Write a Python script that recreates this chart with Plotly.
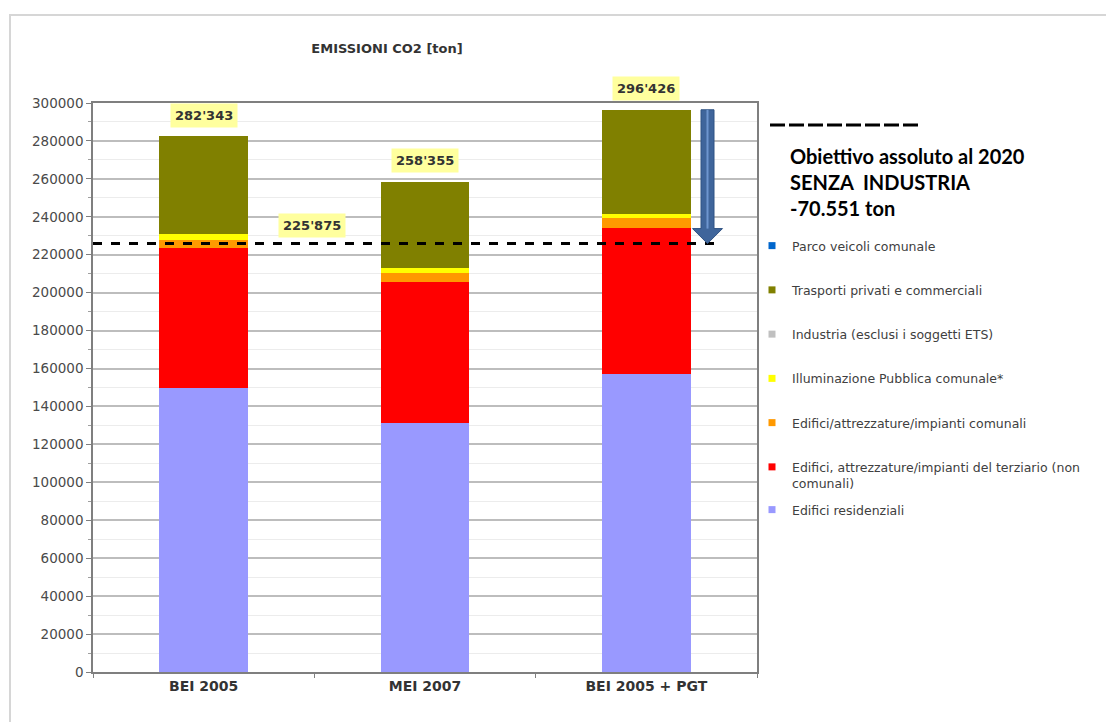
import plotly.graph_objects as go

# --- data -----------------------------------------------------------------
categories = ["BEI 2005", "MEI 2007", "BEI 2005 + PGT"]

edifici_residenziali = [150000, 131200, 157000]
edifici_terziario = [73600, 74500, 77100]
edifici_comunali = [4400, 4500, 5300]
illuminazione_pubblica = [3100, 2700, 2300]
industria = [0, 0, 0]
trasporti_privati = [51243, 45455, 54726]
parco_veicoli = [0, 0, 0]

obiettivo_2020 = 225875

series_names = [
    "Edifici residenziali",
    "Edifici, attrezzature/impianti del terziario (non<br>comunali)",
    "Edifici/attrezzature/impianti comunali",
    "Illuminazione Pubblica comunale*",
    "Industria (esclusi i soggetti ETS)",
    "Trasporti privati e commerciali",
    "Parco veicoli comunale",
]
series_values = [
    edifici_residenziali,
    edifici_terziario,
    edifici_comunali,
    illuminazione_pubblica,
    industria,
    trasporti_privati,
    parco_veicoli,
]
series_colors = ["#9999FF", "#FF0000", "#FF9900", "#FFFF00", "#C0C0C0", "#808000", "#0066CC"]

y_ticks = list(range(0, 300001, 20000))

# --- geometry helpers (pixel -> paper) ------------------------------------
W, H = 1106, 722
L, R, T, B = 93, 757, 103, 672


def px_x(px):
    return (px - L) / (R - L)


def px_y(py):
    return (B - py) / (B - T)


Y_MAX = 300000
UNITS_PER_PX = Y_MAX / (B - T)

totals = [sum(col) for col in zip(*series_values)]


def fmt_apos(v):
    return f"{v:,}".replace(",", "'")


fig = go.Figure()

# stacked bars, bottom to top
for name, vals, col in zip(series_names, series_values, series_colors):
    fig.add_trace(go.Bar(
        x=categories, y=vals, name=name,
        marker=dict(color=col, line=dict(width=0)),
        showlegend=False, hoverinfo="x+y+name",
    ))

# legend entries (small square swatches), listed top to bottom
for i, (name, col) in enumerate(reversed(list(zip(series_names, series_colors)))):
    fig.add_trace(go.Scatter(
        x=[None], y=[None], mode="markers", name=name,
        marker=dict(symbol="square", size=7, color=col),
        legendgroup=f"g{i}",
        legend="legend2" if name == "Edifici residenziali" else "legend",
    ))

annotations = []
label_font = dict(family="DejaVu Sans", size=13, color="#333333")
for cat, tot in zip(categories, totals):
    annotations.append(dict(
        x=cat, y=tot, xref="x", yref="y", text=f"<b>{fmt_apos(tot)}</b>",
        showarrow=False, yshift=21, bgcolor="#FFFF9E", borderpad=4,
        font=label_font,
    ))
annotations.append(dict(
    x=0.49, y=obiettivo_2020, xref="x", yref="y",
    text=f"<b>{fmt_apos(obiettivo_2020)}</b>",
    showarrow=False, yshift=18, bgcolor="#FFFF9E", borderpad=4, font=label_font,
))

riduzione = totals[2] - obiettivo_2020
annotations.append(dict(
    x=px_x(788), y=px_y(142), xref="paper", yref="paper",
    xanchor="left", yanchor="top", align="left", showarrow=False,
    text=("<b>Obiettivo assoluto al 2020<br>SENZA\u00a0 INDUSTRIA<br>"
          f"-{riduzione:,}".replace(",", ".") + " ton</b>"),
    font=dict(family="Lato", size=20, color="#000000"),
))

shapes = []
# outer chart frame
shapes.append(dict(type="rect", xref="paper", yref="paper",
                   x0=px_x(10), x1=px_x(1300), y0=px_y(900), y1=px_y(15),
                   line=dict(color="#D6D6D6", width=2), layer="below"))
# target line
shapes.append(dict(type="line", xref="x", yref="y", x0=-0.5, x1=2.32,
                   y0=obiettivo_2020, y1=obiettivo_2020,
                   line=dict(color="#000000", width=3, dash="dash")))
# dashed key next to the target text
shapes.append(dict(type="line", xref="paper", yref="paper",
                   x0=px_x(770), x1=px_x(922), y0=px_y(125), y1=px_y(125),
                   line=dict(color="#000000", width=3, dash="15px,4px")))

# reduction arrow from BEI 2005 + PGT total down to the target
cx = px_x(707.5)
hs = 6.5 / (R - L)
hh = 15 / (R - L)
head = 15 * UNITS_PER_PX
top, tip = totals[2], obiettivo_2020
arrow_path = (f"M {cx - hs},{top} L {cx + hs},{top} L {cx + hs},{tip + head} "
              f"L {cx + hh},{tip + head} L {cx},{tip} L {cx - hh},{tip + head} "
              f"L {cx - hs},{tip + head} Z")
shapes.append(dict(type="path", xref="paper", yref="y", path=arrow_path,
                   fillcolor="#3F659B", line=dict(color="#2F5283", width=1)))
shapes.append(dict(type="line", xref="paper", yref="y", x0=cx, x1=cx,
                   y0=top, y1=tip + head, line=dict(color="#6E96CF", width=2)))

fig.update_layout(
    width=W, height=H,
    margin=dict(l=L, r=W - R, t=T, b=H - B, pad=0),
    paper_bgcolor="white", plot_bgcolor="white",
    barmode="stack", bargap=0.6,
    title=dict(text="<b>EMISSIONI CO2 [ton]</b>", x=387 / W, xanchor="center",
               y=1 - 48 / H, yanchor="middle", xref="container", yref="container",
               font=dict(family="DejaVu Sans", size=13, color="#333333")),
    xaxis=dict(
        type="category", range=[-0.5, 2.5],
        showline=True, linecolor="#7F7F7F", linewidth=1.5, mirror=True,
        ticks="outside", tickson="boundaries", ticklen=4, tickcolor="#7F7F7F",
        tickfont=dict(family="DejaVu Sans", size=14, color="#333333"),
        tickprefix="<b>", ticksuffix="</b>", showgrid=False,
    ),
    yaxis=dict(
        range=[0, Y_MAX], tickvals=y_ticks, ticktext=[str(v) for v in y_ticks],
        showline=True, linecolor="#7F7F7F", linewidth=1.5, mirror=True,
        ticks="outside", ticklen=5, tickcolor="#7F7F7F",
        showgrid=True, gridcolor="#BDBDBD", gridwidth=1.5,
        minor=dict(dtick=10000, showgrid=True, gridcolor="#ECECEC", gridwidth=1,
                   ticks="outside", ticklen=3, tickcolor="#9F9F9F"),
        tickfont=dict(family="DejaVu Sans", size=13.5, color="#4A4A4A"),
        zeroline=False,
    ),
    legend=dict(
        x=px_x(752), y=px_y(231), xanchor="left", yanchor="top",
        font=dict(family="DejaVu Sans", size=12.5, color="#404040"),
        bgcolor="rgba(0,0,0,0)", tracegroupgap=25, valign="top",
        traceorder="grouped",
    ),
    legend2=dict(
        x=px_x(752), y=px_y(495), xanchor="left", yanchor="top",
        font=dict(family="DejaVu Sans", size=12.5, color="#404040"),
        bgcolor="rgba(0,0,0,0)",
    ),
    annotations=annotations,
    shapes=shapes,
)

fig.write_html("out.html")
